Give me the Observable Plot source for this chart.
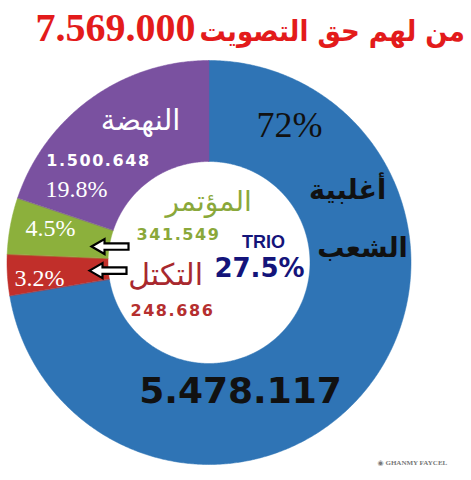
<!DOCTYPE html>
<html>
<head>
<meta charset="utf-8">
<script src="https://cdn.jsdelivr.net/npm/d3@7"></script>
<script src="https://cdn.jsdelivr.net/npm/@observablehq/plot@0.6"></script>
<style>
  html, body { margin: 0; padding: 0; background: #fff; }
  #title {
    width: 471px; height: 50px; box-sizing: border-box;
    padding-top: 4px; padding-right: 6px;
    direction: rtl; text-align: right;
    line-height: 46px; color: #e31b1b; white-space: nowrap; overflow: hidden;
  }
  #title .ar { font: bold 29px "DejaVu Sans Condensed", "DejaVu Sans", sans-serif; }
  #title .num { font: bold 40px "Liberation Serif", serif; }
  #chart svg { display: block; }
</style>
</head>
<body>
<div id="title"><span class="ar"></span> <span class="num"></span></div>
<div id="chart"></div>
<script>
// ---- data ----
const titleWords = "من لهم حق التصويت";
const titleTotal = "7.569.000";
const names = ["أغلبية الشعب", "التكتل", "المؤتمر", "النهضة"];
const votes = [5478117, 248686, 341549, 1500648];
const voteLabels = ["5.478.117", "248.686", "341.549", "1.500.648"];
const pctLabels = ["72%", "3.2%", "4.5%", "19.8%"];
const trioLabel = "TRIO";
const trioPct = "27.5%";
const colors = ["#2f74b5", "#c12f2a", "#8cb03c", "#7a51a0"];
const credit = "◉ GHANMY FAYCEL";

document.querySelector("#title .ar").textContent = titleWords;
document.querySelector("#title .num").textContent = titleTotal;

// ---- geometry built from the data (unit circle) ----
const innerRatio = 0.5;
const arcs = d3.pie().sort(null).value(d => d)(votes);
const ring = [];
arcs.forEach((a, i) => {
  const n = Math.max(4, Math.ceil((a.endAngle - a.startAngle) / 0.008));
  for (let k = 0; k <= n; k++) {
    const t = a.startAngle + (a.endAngle - a.startAngle) * k / n;
    ring.push({name: names[i], x: Math.sin(t), y: Math.cos(t)});
  }
  for (let k = n; k >= 0; k--) {
    const t = a.startAngle + (a.endAngle - a.startAngle) * k / n;
    ring.push({name: names[i], x: innerRatio * Math.sin(t), y: innerRatio * Math.cos(t)});
  }
});

// ---- label layout (unit coordinates of the donut) ----
const serif = "Liberation Serif, DejaVu Serif, serif";
const arab = "DejaVu Sans, sans-serif";
const sans = "DejaVu Sans, sans-serif";
const labelMarks = [
  {t: pctLabels[0], x: 0.399, y: 0.678, c: "#111", f: serif, s: 36, w: "normal"},
  {t: "أغلبية", x: 0.686, y: 0.356, c: "#111", f: arab, s: 27, w: "bold"},
  {t: "الشعب", x: 0.760, y: 0.069, c: "#111", f: arab, s: 27, w: "bold"},
  {t: voteLabels[0], x: 0.156, y: -0.639, c: "#111", f: sans, s: 36, w: "bold"},
  {t: names[3], x: -0.339, y: 0.703, c: "#fff", f: arab, s: 29, w: "normal"},
  {t: voteLabels[3], x: -0.547, y: 0.505, c: "#fff", f: sans, s: 16, w: "bold", ls: 1.6},
  {t: pctLabels[3], x: -0.656, y: 0.361, c: "#fff", f: serif, s: 24, w: "normal"},
  {t: pctLabels[2], x: -0.785, y: 0.168, c: "#fff", f: serif, s: 24, w: "normal"},
  {t: pctLabels[1], x: -0.839, y: -0.079, c: "#fff", f: serif, s: 24, w: "normal"},
  {t: names[2], x: -0.002, y: 0.297, c: "#8aa83a", f: arab, s: 28, w: "normal"},
  {t: voteLabels[2], x: -0.151, y: 0.139, c: "#8aa83a", f: sans, s: 16, w: "bold", ls: 1.6},
  {t: trioLabel, x: 0.270, y: 0.099, c: "#14147a", f: "Liberation Sans, Arial, sans-serif", s: 18, w: "bold"},
  {t: trioPct, x: 0.250, y: -0.030, c: "#14147a", f: sans, s: 26, w: "bold"},
  {t: names[1], x: -0.215, y: -0.064, c: "#a8282e", f: arab, s: 30, w: "normal"},
  {t: voteLabels[1], x: -0.181, y: -0.238, c: "#b52f2f", f: sans, s: 16, w: "bold", ls: 1.6},
  {t: credit, x: 1.007, y: -0.990, c: "#777", f: serif, s: 7, w: "bold"}
];
const arrows = [{x: -0.490, y: 0.079}, {x: -0.500, y: -0.040}];

// hollow block arrow drawn by a vector mark (tip at -l)
const blockArrow = {
  draw(context, l) {
    const head = 13, hw = 7.5, sw = 3.2;
    context.moveTo(0, -l);
    context.lineTo(hw, -l + head);
    context.lineTo(sw, -l + head);
    context.lineTo(sw, 0);
    context.lineTo(-sw, 0);
    context.lineTo(-sw, -l + head);
    context.lineTo(-hw, -l + head);
    context.closePath();
  }
};

const marks = [
  Plot.line(ring, {x: "x", y: "y", z: "name", fill: "name", stroke: "name", strokeWidth: 0.5, curve: "linear-closed"}),
  Plot.vector(arrows, {x: "x", y: "y", length: 37, rotate: 270, anchor: "middle", shape: blockArrow,
    fill: "#fff", stroke: "#000", strokeWidth: 2.2, strokeLinejoin: "miter"})
];
for (const l of labelMarks) {
  marks.push(Plot.text([l], {
    x: "x", y: "y", text: "t", fill: l.c, fontSize: l.s, fontFamily: l.f, fontWeight: l.w
  }));
}

const chart = Plot.plot({
  width: 471,
  height: 430,
  marginLeft: 6.5,
  marginRight: 60.5,
  marginTop: 10,
  marginBottom: 16,
  x: {domain: [-1, 1], axis: null},
  y: {domain: [-1, 1], axis: null},
  color: {domain: names, range: colors},
  marks
});
// letter spacing for the bold vote figures
const spaced = new Map(labelMarks.filter(l => l.ls).map(l => [l.t, l.ls]));
d3.select(chart).selectAll("text").each(function () {
  const t = this.textContent;
  if (spaced.has(t)) d3.select(this).attr("letter-spacing", spaced.get(t));
});
document.getElementById("chart").appendChild(chart);
</script>
</body>
</html>
